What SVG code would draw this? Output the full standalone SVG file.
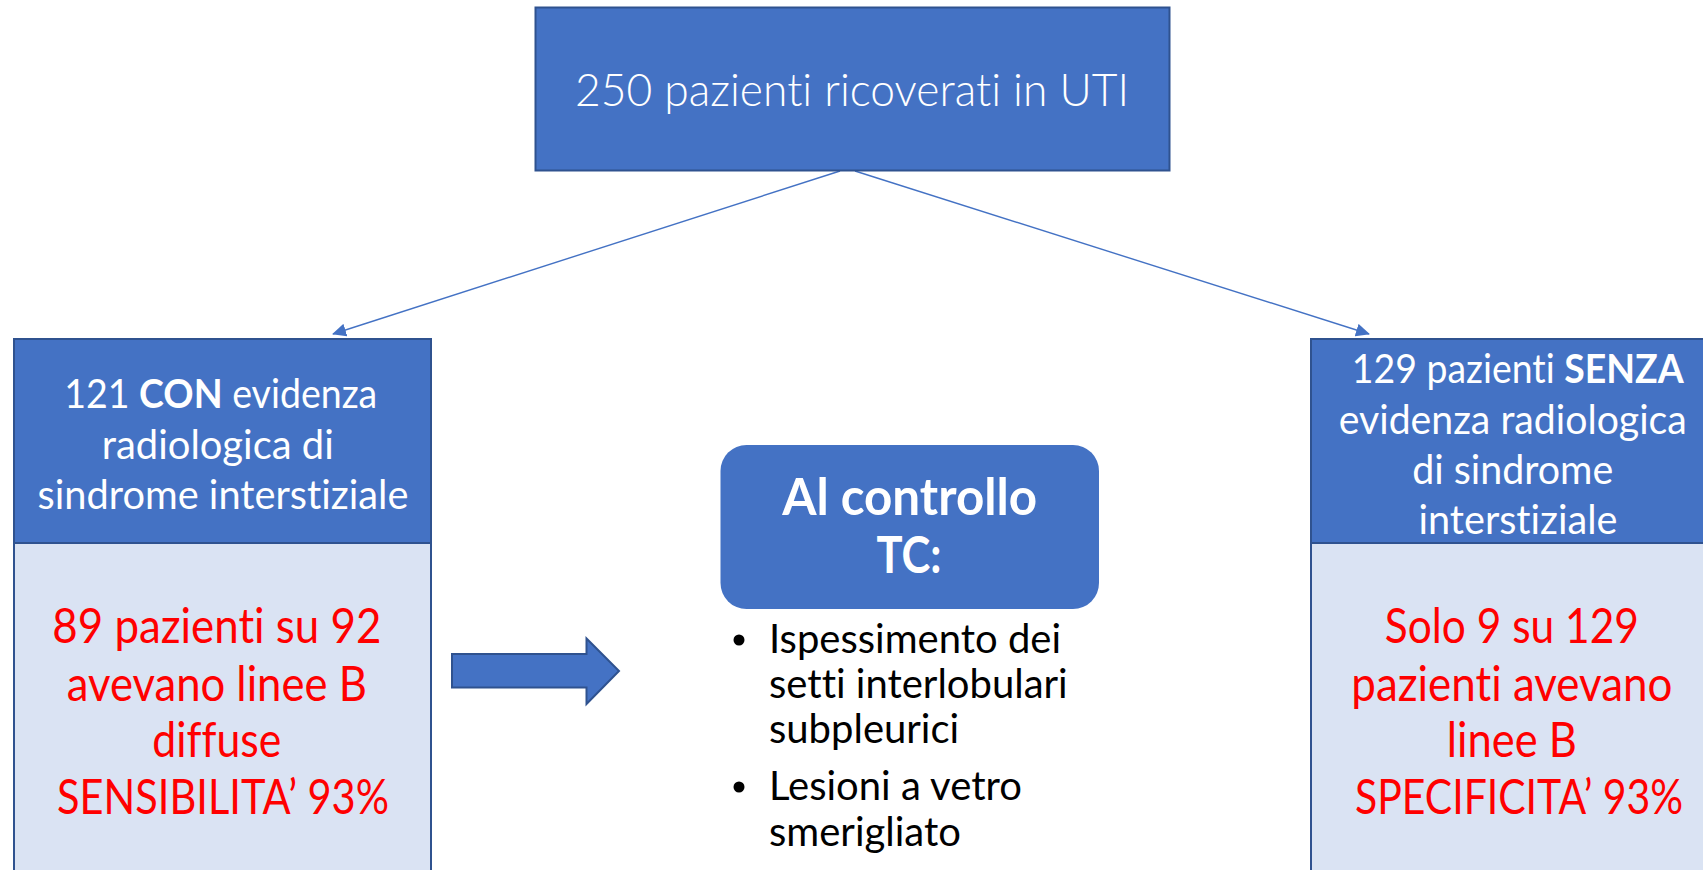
<svg xmlns="http://www.w3.org/2000/svg" width="1703" height="870" viewBox="0 0 1703 870">
<style>
text{font-variant-ligatures:none;font-feature-settings:"liga" 0,"clig" 0}
.dark{fill:#4472C4;stroke:#2F528F;stroke-width:2}
.light{fill:#DAE3F3;stroke:#2F528F;stroke-width:2}
.wt{fill:#FFFFFF;font-family:Lato,"Open Sans",sans-serif;text-anchor:middle}
.rt{fill:#FF0000;font-family:Lato,"Open Sans",sans-serif;text-anchor:middle;font-size:48px}
.bt{fill:#000000;font-family:Lato,"Open Sans",sans-serif;font-size:40px}
.conn{stroke:#4472C4;stroke-width:1.4;fill:none;marker-end:url(#ah)}
</style>
<defs>
<marker id="ah" viewBox="0 0 14 14" refX="13" refY="7" markerWidth="14" markerHeight="14" markerUnits="userSpaceOnUse" orient="auto">
<path d="M0,0.5 L14,7 L0,13.5 z" fill="#4472C4"/>
</marker>
</defs>
<rect width="1703" height="870" fill="#FFFFFF"/>
<g id="connectors">
<line class="conn" x1="840" y1="171" x2="333" y2="334"/>
<line class="conn" x1="855" y1="171" x2="1369" y2="334"/>
</g>
<g id="top">
<rect class="dark" x="535.5" y="7.5" width="634" height="163"/>
<text class="wt" x="852" y="106" font-size="46" font-weight="300" textLength="554" lengthAdjust="spacingAndGlyphs">250 pazienti ricoverati in UTI</text>
</g>
<g id="left">
<rect class="light" x="14" y="543" width="417" height="340"/>
<rect class="dark" x="14" y="339" width="417" height="204"/>
<text class="wt" font-size="41">
<tspan x="226" y="408" textLength="313" lengthAdjust="spacingAndGlyphs">121 <tspan font-weight="bold">CON</tspan> evidenza</tspan>
<tspan x="223" y="458.5" textLength="232" lengthAdjust="spacingAndGlyphs">radiologica di</tspan>
<tspan x="223" y="509" textLength="371" lengthAdjust="spacingAndGlyphs">sindrome interstiziale</tspan>
</text>
<text class="rt">
<tspan x="223" y="643" textLength="329" lengthAdjust="spacingAndGlyphs">89 pazienti su 92</tspan>
<tspan x="223" y="700.5" textLength="300" lengthAdjust="spacingAndGlyphs">avevano linee B</tspan>
<tspan x="223" y="757" textLength="129" lengthAdjust="spacingAndGlyphs">diffuse</tspan>
<tspan x="223" y="813.5" textLength="332" lengthAdjust="spacingAndGlyphs">SENSIBILITA’ 93%</tspan>
</text>
</g>
<g id="big-arrow">
<path class="dark" d="M452,654 L586.5,654 L586.5,638.5 L619,671 L586.5,704 L586.5,687.5 L452,687.5 Z"/>
</g>
<g id="center">
<rect class="dark" x="720.5" y="445" width="378.5" height="164" rx="26" ry="26" style="stroke:none"/>
<text class="wt" font-size="52" font-weight="bold">
<tspan x="916" y="515" textLength="255" lengthAdjust="spacingAndGlyphs">Al controllo</tspan>
<tspan x="909" y="573" textLength="65" lengthAdjust="spacingAndGlyphs">TC:</tspan>
</text>
<g class="bt">
<circle cx="739" cy="640" r="5.5" fill="#000"/>
<circle cx="739" cy="787" r="5.5" fill="#000"/>
<text x="769" y="653">Ispessimento dei</text>
<text x="769" y="698">setti interlobulari</text>
<text x="769" y="743">subpleurici</text>
<text x="769" y="800">Lesioni a vetro</text>
<text x="769" y="846">smerigliato</text>
</g>
</g>
<g id="right">
<rect class="light" x="1311" y="543" width="417" height="340"/>
<rect class="dark" x="1311" y="339" width="417" height="204"/>
<text class="wt" font-size="41">
<tspan x="1523" y="383" textLength="332" lengthAdjust="spacingAndGlyphs">129 pazienti <tspan font-weight="bold">SENZA</tspan></tspan>
<tspan x="1518" y="433.5" textLength="348" lengthAdjust="spacingAndGlyphs">evidenza radiologica</tspan>
<tspan x="1518" y="484" textLength="201" lengthAdjust="spacingAndGlyphs">di sindrome</tspan>
<tspan x="1518" y="534" textLength="199" lengthAdjust="spacingAndGlyphs">interstiziale</tspan>
</text>
<text class="rt">
<tspan x="1518" y="643" textLength="254" lengthAdjust="spacingAndGlyphs">Solo 9 su 129</tspan>
<tspan x="1518" y="700.5" textLength="321" lengthAdjust="spacingAndGlyphs">pazienti avevano</tspan>
<tspan x="1518" y="757" textLength="130" lengthAdjust="spacingAndGlyphs">linee B</tspan>
<tspan x="1519" y="813.5" textLength="328" lengthAdjust="spacingAndGlyphs">SPECIFICITA’ 93%</tspan>
</text>
</g>
</svg>
